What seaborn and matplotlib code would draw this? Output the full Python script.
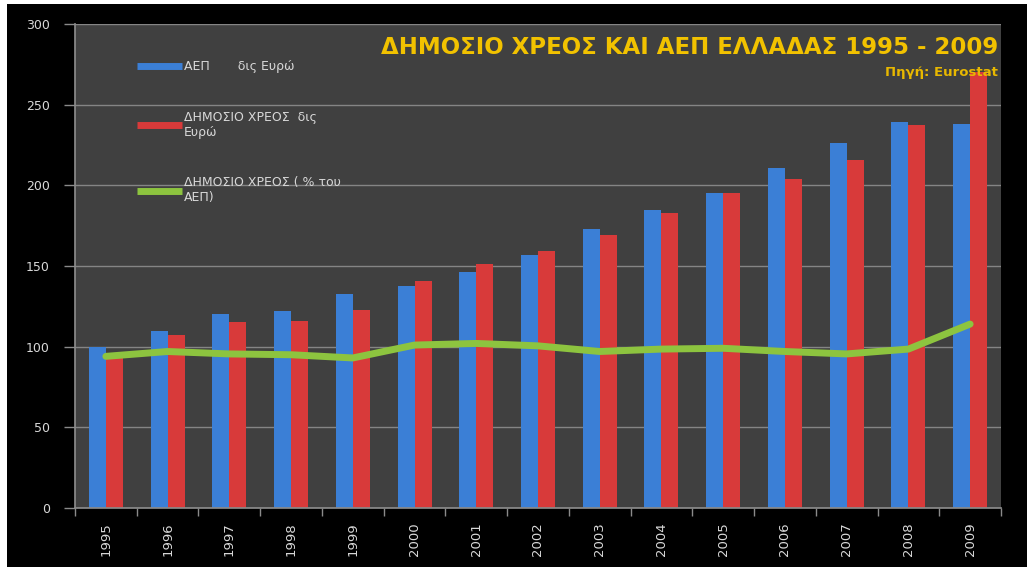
import matplotlib
matplotlib.use("Agg")
import matplotlib.pyplot as plt
import seaborn as sns
import pandas as pd
import numpy as np
from matplotlib.lines import Line2D
from matplotlib.patches import Rectangle
from matplotlib.ticker import FixedLocator

# data
years = [str(y) for y in range(1995, 2010)]
gdp = [100, 110, 120, 122, 132.5, 137.5, 146, 157, 173, 185, 195, 211, 226.5, 239, 238]
debt = [95, 107, 115, 116, 122.5, 141, 151.5, 159, 169, 183, 195, 204, 216, 237.5, 270]
debt_pct = [94, 97, 95.5, 95, 93, 101, 102, 100.5, 97, 98.5, 99, 97, 95.5, 98.5, 114]

lbl_gdp = "ΑΕΠ       δις Ευρώ"
lbl_debt = "ΔΗΜΟΣΙΟ ΧΡΕΟΣ  δις\nΕυρώ"
lbl_pct = "ΔΗΜΟΣΙΟ ΧΡΕΟΣ ( % του\nΑΕΠ)"

df = pd.DataFrame({"Έτος": years * 2,
                   "Τιμή": gdp + debt,
                   "Σειρά": ["ΑΕΠ"] * len(years) + ["Χρέος"] * len(years)})

sns.set_theme(style="dark", rc={
    "axes.facecolor": "#404040",
    "figure.facecolor": "white",
    "axes.edgecolor": "#8a8a8a",
    "grid.color": "#858585",
    "text.color": "#e0e0e0",
    "xtick.color": "#e0e0e0",
    "ytick.color": "#e0e0e0",
})
plt.rcParams["font.family"] = ["DejaVu Sans"]

fig = plt.figure(figsize=(10.27, 5.67), dpi=100)
# black picture area with a thin white margin at top and left
fig.add_artist(Rectangle((7 / 1027, 0), 1, 1 - 4 / 567, transform=fig.transFigure,
                         facecolor="black", edgecolor="none", zorder=-10))
ax = fig.add_axes([75 / 1027, 59 / 567, 926 / 1027, 484 / 567])

blue = "#3b7fd6"
red = "#d83a3a"
green = "#8dc43f"

sns.barplot(data=df, x="Έτος", y="Τιμή", hue="Σειρά", palette=[blue, red],
            width=0.55, saturation=1, ax=ax, legend=False, zorder=2,
            linewidth=0, edgecolor="none")

sns.lineplot(x=np.arange(len(years)), y=debt_pct, color=green, linewidth=5,
             ax=ax, zorder=3, solid_capstyle="round")

ax.set_ylim(0, 300)
ax.set_xlim(-0.5, len(years) - 0.5)
ax.set_yticks(range(0, 301, 50))
ax.yaxis.grid(True, color="#858585", linewidth=1, zorder=0)
ax.xaxis.grid(False)
ax.set_xlabel("")
ax.set_ylabel("")
for s in ["top", "right"]:
    ax.spines[s].set_visible(False)
for s in ["left", "bottom"]:
    ax.spines[s].set_color("#8a8a8a")

ax.tick_params(axis="y", left=True, length=8, width=1, color="#8a8a8a",
               labelsize=9, pad=10, labelcolor="#d8d8d8")
ax.tick_params(axis="x", bottom=False, labelsize=9.5, rotation=90, pad=4,
               labelcolor="#d8d8d8")
ax.xaxis.set_minor_locator(FixedLocator(np.arange(len(years) + 1) - 0.5))
ax.tick_params(axis="x", which="minor", bottom=True, length=6, width=1, color="#8a8a8a")

ax.text(0.997, 0.952, "ΔΗΜΟΣΙΟ ΧΡΕΟΣ ΚΑΙ ΑΕΠ ΕΛΛΑΔΑΣ 1995 - 2009",
        transform=ax.transAxes, ha="right", va="center", fontsize=16.5,
        fontweight="bold", color="#f2c200", zorder=5)
ax.text(0.997, 0.9, "Πηγή: Eurostat", transform=ax.transAxes, ha="right",
        va="center", fontsize=9.5, fontweight="bold", color="#e8b800", zorder=5)

handles = [Line2D([], [], color=blue, linewidth=5, solid_capstyle="butt"),
           Line2D([], [], color=red, linewidth=5, solid_capstyle="butt"),
           Line2D([], [], color=green, linewidth=5, solid_capstyle="butt")]
leg = ax.legend(handles, [lbl_gdp, lbl_debt, lbl_pct], loc="upper left",
                bbox_to_anchor=(0.067, 0.925), frameon=False, fontsize=9,
                handlelength=3.6, handletextpad=0.15, labelspacing=3.0,
                borderpad=0, borderaxespad=0)
for t in leg.get_texts():
    t.set_color("#d8d8d8")

fig.savefig("out.png", dpi=100)
